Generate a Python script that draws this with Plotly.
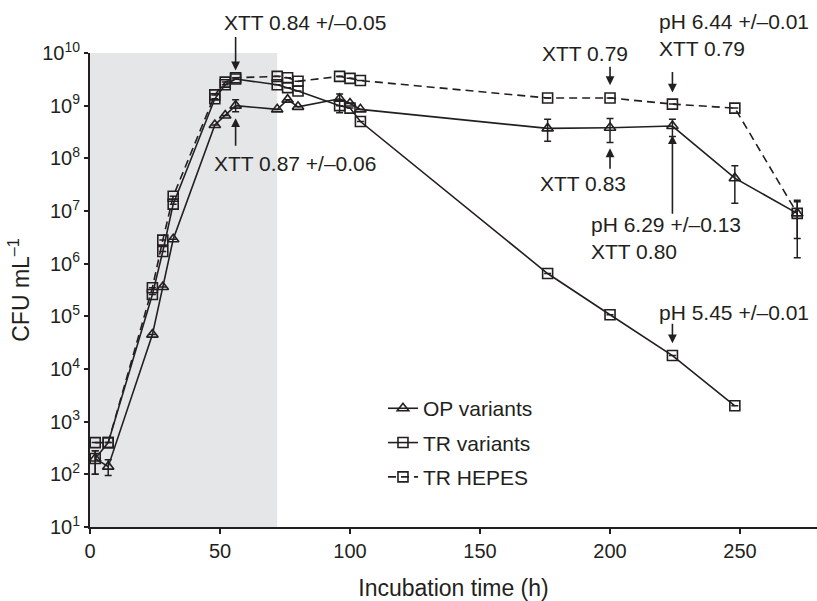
import plotly.graph_objects as go

# ---- data ----
op_t = [2, 7, 24, 28, 32, 48, 52, 56, 72, 76, 80, 96, 100, 104, 176, 200, 224, 248, 272]
op_cfu = [200, 140, 4.5e4, 3.6e5, 2.9e6, 4.3e8, 6.5e8, 1.0e9, 8.5e8, 1.3e9, 9.5e8,
          1.35e9, 1.1e9, 8.5e8, 3.7e8, 3.8e8, 4.1e8, 4.2e7, 9.0e6]
op_hi = [280, 190, None, None, None, None, None, 1.3e9, None, None, None,
         1.66e9, None, None, 5.5e8, 5.7e8, 5.5e8, 7.2e7, 1.6e7]
op_lo = [100, 95, None, None, None, None, None, 7.7e8, None, None, None,
         7.3e8, None, None, 2.1e8, 2.0e8, 2.6e8, 1.4e7, 1.3e6]

tr_t = [2, 7, 24, 28, 32, 48, 52, 56, 72, 76, 80, 96, 100, 104, 176, 200, 224, 248]
tr_cfu = [200, 400, 2.6e5, 1.7e6, 1.35e7, 1.35e9, 2.5e9, 3.2e9, 2.5e9, 2.2e9, 1.9e9,
          1.0e9, 9.0e8, 5.0e8, 6.5e5, 1.07e5, 1.8e4, 2.0e3]
tr_hi = [280] + [None] * 17
tr_lo = [100] + [None] * 17

he_t = [2, 7, 24, 28, 32, 48, 52, 56, 72, 76, 80, 96, 100, 104, 176, 200, 224, 248, 272]
he_cfu = [400, 400, 3.5e5, 2.8e6, 1.9e7, 1.6e9, 2.8e9, 3.4e9, 3.6e9, 3.4e9, 2.9e9,
          3.6e9, 3.3e9, 3.0e9, 1.4e9, 1.4e9, 1.07e9, 9.0e8, 9.0e6]
he_hi = [None] * 18 + [1.5e7]
he_lo = [None] * 18 + [3.0e6]

x_ticks = [0, 50, 100, 150, 200, 250]
y_exps = list(range(1, 11))
shade_end = 72

INK = "#231f20"
FONT = "Liberation Sans, Arial, Helvetica, sans-serif"


def errs(v, hi, lo):
    plus = [(h - a) if h is not None else 0 for a, h in zip(v, hi)]
    minus = [(a - l) if l is not None else 0 for a, l in zip(v, lo)]
    return plus, minus


fig = go.Figure()

for i, (name, t, v, hi, lo, sym, dash) in enumerate([
    ("OP variants", op_t, op_cfu, op_hi, op_lo, "triangle-up-open", "solid"),
    ("TR variants", tr_t, tr_cfu, tr_hi, tr_lo, "square-open", "solid"),
    ("TR HEPES", he_t, he_cfu, he_hi, he_lo, "square-open", "8px,5px"),
]):
    p, m = errs(v, hi, lo)
    fig.add_trace(go.Scatter(
        x=t, y=v, name=name, mode="lines+markers", legendgroup=f"g{i}",
        line=dict(color=INK, width=1.6, dash=dash),
        marker=dict(symbol=sym, size=10, color=INK, line=dict(width=1.6, color=INK)),
        error_y=dict(type="data", symmetric=False, array=p, arrayminus=m,
                     color=INK, thickness=1.5, width=3.5, visible=True),
    ))

fig.add_shape(type="rect", xref="x", yref="y", x0=0, x1=shade_end,
              y0=10 ** y_exps[0], y1=10 ** y_exps[-1],
              fillcolor="#e5e6e8", line=dict(width=0), layer="below")

# arrows (tip at x,y; tail offset ay in px)
arrows = [(56, 9.67, -35), (56, 8.76, 29), (200, 9.39, -20), (224, 9.25, -22),
          (200, 8.19, 22), (224, 8.44, 80), (224, 4.49, -21)]
for x, y, ay in arrows:
    fig.add_annotation(x=x, y=y, xref="x", yref="y", text="", showarrow=True,
                       ax=0, ay=ay, arrowhead=2, arrowsize=1.1, arrowwidth=1.6,
                       arrowcolor=INK)

# texts inside the axis range (data coords, log10 y)
texts = [
    (46.9, 7.91, "XTT 0.87 +/\u20130.06", "left"),
    (207.7, 9.99, "XTT 0.79", "right"),
    (206.9, 7.53, "XTT 0.83", "right"),
    (191.9, 6.48, "pH 6.29 +/\u20130.13<br>XTT 0.80", "left"),
    (218.1, 5.08, "pH 5.45 +/\u20130.01", "left"),
]
for x, y, s, anc in texts:
    fig.add_annotation(x=x, y=y, xref="x", yref="y", text=s, showarrow=False,
                       xanchor=anc, yanchor="middle", align="left",
                       font=dict(size=21, color=INK, family=FONT))

# texts above the plot area (paper y)
top_texts = [
    (50.8, 1.0636, "XTT 0.84 +/\u20130.05"),
    (218.0, 1.0381, "pH 6.44 +/\u20130.01<br>XTT 0.79"),
]
for x, y, s in top_texts:
    fig.add_annotation(x=x, y=y, xref="x", yref="paper", text=s, showarrow=False,
                       xanchor="left", yanchor="middle", align="left",
                       font=dict(size=21, color=INK, family=FONT))

fig.update_layout(
    width=817, height=601,
    margin=dict(l=90, r=0, t=53, b=74, autoexpand=False),
    paper_bgcolor="white", plot_bgcolor="white",
    font=dict(family=FONT, color=INK, size=20),
    showlegend=True,
    legend=dict(x=0.403, y=0.293, xanchor="left", yanchor="top",
                bgcolor="rgba(0,0,0,0)", font=dict(size=21, color=INK),
                tracegroupgap=4, traceorder="grouped"),
)
fig.update_xaxes(range=[0, 279.6], tickvals=x_ticks, ticks="outside", ticklen=5,
                 tickwidth=1.5, tickcolor=INK, showline=True, linewidth=2,
                 linecolor=INK, showgrid=False, zeroline=False, automargin=False,
                 title=dict(text="Incubation time (h)", font=dict(size=23), standoff=19),
                 tickfont=dict(size=20))
fig.update_yaxes(type="log", range=[1, 10], tickvals=[10 ** e for e in y_exps],
                 ticktext=[f"10<sup>{e}</sup>" for e in y_exps],
                 ticks="outside", ticklen=4, tickwidth=1.5, tickcolor=INK,
                 showline=True, linewidth=2, linecolor=INK, showgrid=False,
                 zeroline=False, automargin=False,
                 title=dict(text="CFU mL<sup>\u20131</sup>", font=dict(size=23), standoff=6),
                 tickfont=dict(size=20))

fig.write_html("out.html", config={"displayModeBar": False},
               post_script="document.body.style.margin='0';document.body.style.overflow='hidden';")
